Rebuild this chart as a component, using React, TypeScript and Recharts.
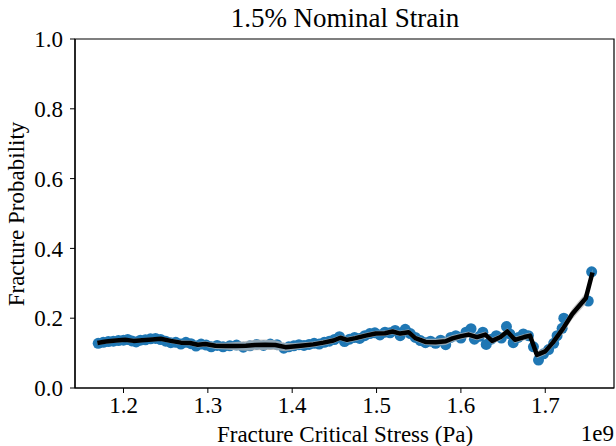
import React from "react";
import { ComposedChart, Scatter, Line, Area, XAxis, YAxis, ReferenceArea } from "recharts";

// Scatter observations (x in units of 1e9 Pa)
const scatterX = [
  1.170, 1.176, 1.182, 1.188, 1.194, 1.200, 1.205, 1.210, 1.215, 1.220,
  1.226, 1.232, 1.238, 1.244, 1.250, 1.256, 1.262, 1.268, 1.274, 1.280,
  1.286, 1.292, 1.298, 1.304, 1.311, 1.318, 1.326, 1.334, 1.342, 1.350,
  1.358, 1.366, 1.374, 1.382, 1.390, 1.396, 1.402, 1.408, 1.414, 1.420,
  1.426, 1.432, 1.438, 1.444, 1.450, 1.456, 1.462, 1.468, 1.474, 1.480,
  1.486, 1.492, 1.498, 1.504, 1.510, 1.516, 1.522, 1.528, 1.534, 1.540,
  1.546, 1.552, 1.558, 1.564, 1.570, 1.576, 1.582, 1.588, 1.594, 1.600,
  1.606, 1.612, 1.616, 1.622, 1.626, 1.630, 1.636, 1.642, 1.648, 1.654,
  1.658, 1.662, 1.668, 1.674, 1.680, 1.686, 1.692, 1.698, 1.704, 1.710,
  1.714, 1.720, 1.722, 1.751, 1.755,
];
const scatterY = [
  0.128, 0.131, 0.133, 0.134, 0.136, 0.137, 0.139, 0.135, 0.132, 0.137,
  0.138, 0.141, 0.142, 0.139, 0.134, 0.130, 0.131, 0.126, 0.131, 0.127,
  0.120, 0.126, 0.123, 0.118, 0.122, 0.118, 0.121, 0.123, 0.117, 0.121,
  0.125, 0.122, 0.126, 0.124, 0.114, 0.118, 0.121, 0.124, 0.122, 0.125,
  0.128, 0.126, 0.131, 0.134, 0.139, 0.147, 0.133, 0.140, 0.145, 0.142,
  0.150, 0.156, 0.158, 0.152, 0.160, 0.158, 0.165, 0.150, 0.168, 0.156,
  0.145, 0.136, 0.130, 0.134, 0.128, 0.137, 0.124, 0.145, 0.150, 0.143,
  0.160, 0.170, 0.140, 0.148, 0.160, 0.125, 0.140, 0.150, 0.143, 0.176,
  0.155, 0.130, 0.145, 0.155, 0.150, 0.118, 0.080, 0.098, 0.110, 0.128,
  0.150, 0.171, 0.200, 0.249, 0.333,
];

// Smoothed fit line and its confidence band half-width
const lineX = [
  1.169, 1.179, 1.191, 1.202, 1.212, 1.222, 1.234, 1.244, 1.256, 1.268,
  1.279, 1.288, 1.297, 1.309, 1.321, 1.333, 1.345, 1.356, 1.368, 1.380,
  1.392, 1.401, 1.413, 1.425, 1.437, 1.449, 1.457, 1.465, 1.475, 1.487,
  1.499, 1.510, 1.519, 1.528, 1.538, 1.546, 1.558, 1.570, 1.582, 1.590,
  1.599, 1.609, 1.619, 1.629, 1.637, 1.647, 1.655, 1.664, 1.675, 1.682,
  1.690, 1.700, 1.709, 1.721, 1.732, 1.748, 1.756,
];
const lineY = [
  0.129, 0.133, 0.136, 0.138, 0.135, 0.137, 0.139, 0.141, 0.135, 0.130,
  0.129, 0.124, 0.126, 0.121, 0.120, 0.120, 0.121, 0.123, 0.124, 0.123,
  0.117, 0.119, 0.122, 0.125, 0.130, 0.136, 0.144, 0.138, 0.143, 0.150,
  0.156, 0.157, 0.162, 0.156, 0.160, 0.143, 0.132, 0.131, 0.134, 0.142,
  0.148, 0.153, 0.146, 0.153, 0.135, 0.146, 0.162, 0.138, 0.146, 0.150,
  0.095, 0.105, 0.130, 0.170, 0.212, 0.257, 0.331,
];
const bandHalf = [
  0.006, 0.006, 0.006, 0.006, 0.006, 0.006, 0.006, 0.006, 0.007, 0.007,
  0.007, 0.008, 0.008, 0.009, 0.010, 0.012, 0.014, 0.015, 0.015, 0.014,
  0.012, 0.010, 0.009, 0.008, 0.008, 0.008, 0.008, 0.008, 0.008, 0.008,
  0.008, 0.008, 0.008, 0.008, 0.008, 0.008, 0.009, 0.010, 0.011, 0.010,
  0.009, 0.009, 0.009, 0.009, 0.009, 0.009, 0.009, 0.009, 0.009, 0.009,
  0.010, 0.010, 0.011, 0.013, 0.015, 0.016, 0.010,
];

const xTicks = [1.2, 1.3, 1.4, 1.5, 1.6, 1.7];
const yTicks = [0.0, 0.2, 0.4, 0.6, 0.8, 1.0];

const scatterData = scatterX.map((x, i) => ({ x, p: scatterY[i] }));
const lineData = lineX.map((x, i) => ({
  x,
  m: lineY[i],
  band: [lineY[i] - bandHalf[i], lineY[i] + bandHalf[i]] as [number, number],
}));

const FONT = "'Liberation Serif', 'Times New Roman', serif";
const W = 616;
const H = 446;
const X_DOMAIN: [number, number] = [1.1425, 1.7815];
const Y_DOMAIN: [number, number] = [0, 1];
const MARGIN = { top: 39, right: 2, left: 0, bottom: 0 };

const Dot = (props: any) => {
  const { cx, cy } = props;
  if (cx == null || cy == null || Number.isNaN(cy)) return null;
  return <circle cx={cx} cy={cy} r={5.5} fill="#1f77b4" />;
};

const XTick = (props: any) => {
  const { x, y, payload } = props;
  return (
    <text x={x} y={y} dy="0.71em" textAnchor="middle" fontFamily={FONT} fontSize={23} fill="#000">
      {Number(payload.value).toFixed(1)}
    </text>
  );
};

const YTick = (props: any) => {
  const { x, y, payload } = props;
  return (
    <text x={x} y={y} dy="0.355em" textAnchor="end" fontFamily={FONT} fontSize={23} fill="#000">
      {Number(payload.value).toFixed(1)}
    </text>
  );
};

export default function App() {
  const axisLine = { stroke: "#000", strokeWidth: 1.2 };
  const tickLine = { stroke: "#000", strokeWidth: 1 };
  return (
    <div
      style={{
        position: "absolute",
        left: 0,
        top: 0,
        width: W,
        height: H,
        background: "#fff",
        fontFamily: FONT,
      }}
    >
      {/* Layer 1: axes, frame and scatter points */}
      <div style={{ position: "absolute", left: 0, top: 0 }}>
        <ComposedChart width={W} height={H} data={scatterData} margin={MARGIN}>
          <XAxis
            dataKey="x"
            type="number"
            domain={X_DOMAIN}
            ticks={xTicks}
            tick={<XTick />}
            tickSize={5}
            tickMargin={4}
            height={58}
            axisLine={axisLine}
            tickLine={tickLine}
            allowDataOverflow
          />
          <YAxis
            type="number"
            domain={Y_DOMAIN}
            ticks={yTicks}
            tick={<YTick />}
            tickSize={5}
            tickMargin={7}
            width={75}
            axisLine={axisLine}
            tickLine={tickLine}
            allowDataOverflow
          />
          <ReferenceArea
            x1={X_DOMAIN[0]}
            x2={X_DOMAIN[1]}
            y1={Y_DOMAIN[0]}
            y2={Y_DOMAIN[1]}
            fill="none"
            fillOpacity={0}
            stroke="#000"
            strokeWidth={1.2}
            ifOverflow="extendDomain"
          />
          <Scatter dataKey="p" shape={<Dot />} isAnimationActive={false} />
        </ComposedChart>
      </div>
      {/* Layer 2: confidence band and fitted line on top of the points */}
      <div style={{ position: "absolute", left: 0, top: 0 }}>
        <ComposedChart width={W} height={H} data={lineData} margin={MARGIN}>
          <XAxis
            dataKey="x"
            type="number"
            domain={X_DOMAIN}
            ticks={xTicks}
            tick={false}
            tickLine={false}
            axisLine={false}
            height={58}
            allowDataOverflow
          />
          <YAxis
            type="number"
            domain={Y_DOMAIN}
            ticks={yTicks}
            tick={false}
            tickLine={false}
            axisLine={false}
            width={75}
            allowDataOverflow
          />
          <Area
            dataKey="band"
            type="linear"
            stroke="none"
            fill="#b4b4b4"
            fillOpacity={0.75}
            isAnimationActive={false}
          />
          <Line
            dataKey="m"
            type="linear"
            stroke="#000"
            strokeWidth={4.5}
            strokeLinejoin="round"
            dot={false}
            activeDot={false}
            isAnimationActive={false}
          />
        </ComposedChart>
      </div>
      <svg
        width={W}
        height={H}
        style={{ position: "absolute", left: 0, top: 0, pointerEvents: "none" }}
      >
        <text x={345} y={27} textAnchor="middle" fontFamily={FONT} fontSize={27} fill="#000">
          1.5% Nominal Strain
        </text>
        <text x={345} y={442} textAnchor="middle" fontFamily={FONT} fontSize={23} fill="#000">
          Fracture Critical Stress (Pa)
        </text>
        <text x={614} y={441} textAnchor="end" fontFamily={FONT} fontSize={23} fill="#000">
          1e9
        </text>
        <text
          x={24}
          y={214}
          textAnchor="middle"
          fontFamily={FONT}
          fontSize={23}
          fill="#000"
          transform="rotate(-90 24 214)"
        >
          Fracture Probability
        </text>
      </svg>
    </div>
  );
}
